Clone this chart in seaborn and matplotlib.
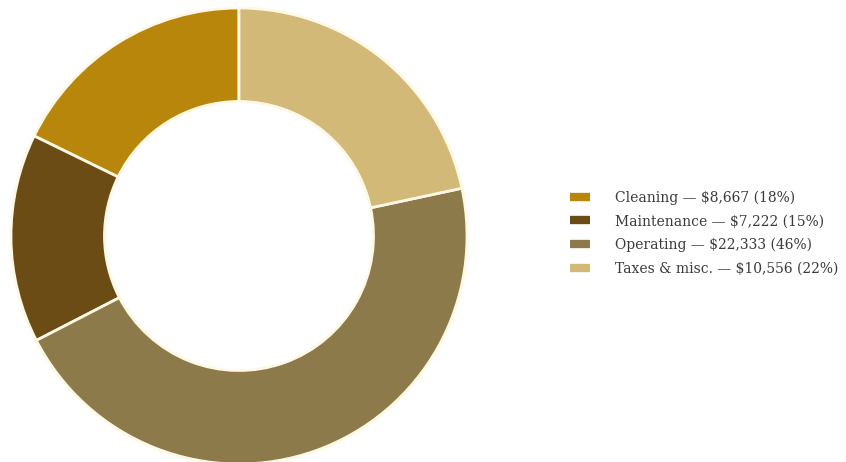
import matplotlib
matplotlib.use("Agg")
import matplotlib.pyplot as plt
from matplotlib.lines import Line2D
import seaborn as sns

# Expense breakdown
categories = ["Cleaning", "Maintenance", "Operating", "Taxes & misc."]
amounts = [8667, 7222, 22333, 10556]
colors = ["#B8860B", "#6B4C14", "#8C7A4B", "#D3B978"]

sns.set_theme(style="white")
plt.rcParams["font.family"] = ["DejaVu Serif"]

fig = plt.figure(figsize=(8.46, 4.62), dpi=100)
ax = fig.add_axes([11 / 846, -2 / 462, 456 / 846, 456 / 462])

ax.pie(
    amounts,
    colors=colors,
    startangle=90,
    counterclock=True,
    radius=1.0,
    wedgeprops=dict(width=0.41, edgecolor="#FFF8E4", linewidth=2),
)
ax.set_xlim(-1, 1)
ax.set_ylim(-1, 1)
ax.set_aspect("equal")
ax.axis("off")

total = sum(amounts)
labels = [
    f"{c} \u2014 ${v:,} ({round(100 * v / total)}%)"
    for c, v in zip(categories, amounts)
]
handles = [
    Line2D([0], [0], color=col, lw=6, solid_capstyle="butt") for col in colors
]
fig.legend(
    handles,
    labels,
    loc="center left",
    bbox_to_anchor=(570 / 846, 229 / 462),
    frameon=False,
    fontsize=10,
    handlelength=1.44,
    handletextpad=1.8,
    labelspacing=0.68,
    borderpad=0,
    borderaxespad=0,
    labelcolor="#3A3A3A",
)

fig.savefig("out.png", dpi=100, facecolor="white")
